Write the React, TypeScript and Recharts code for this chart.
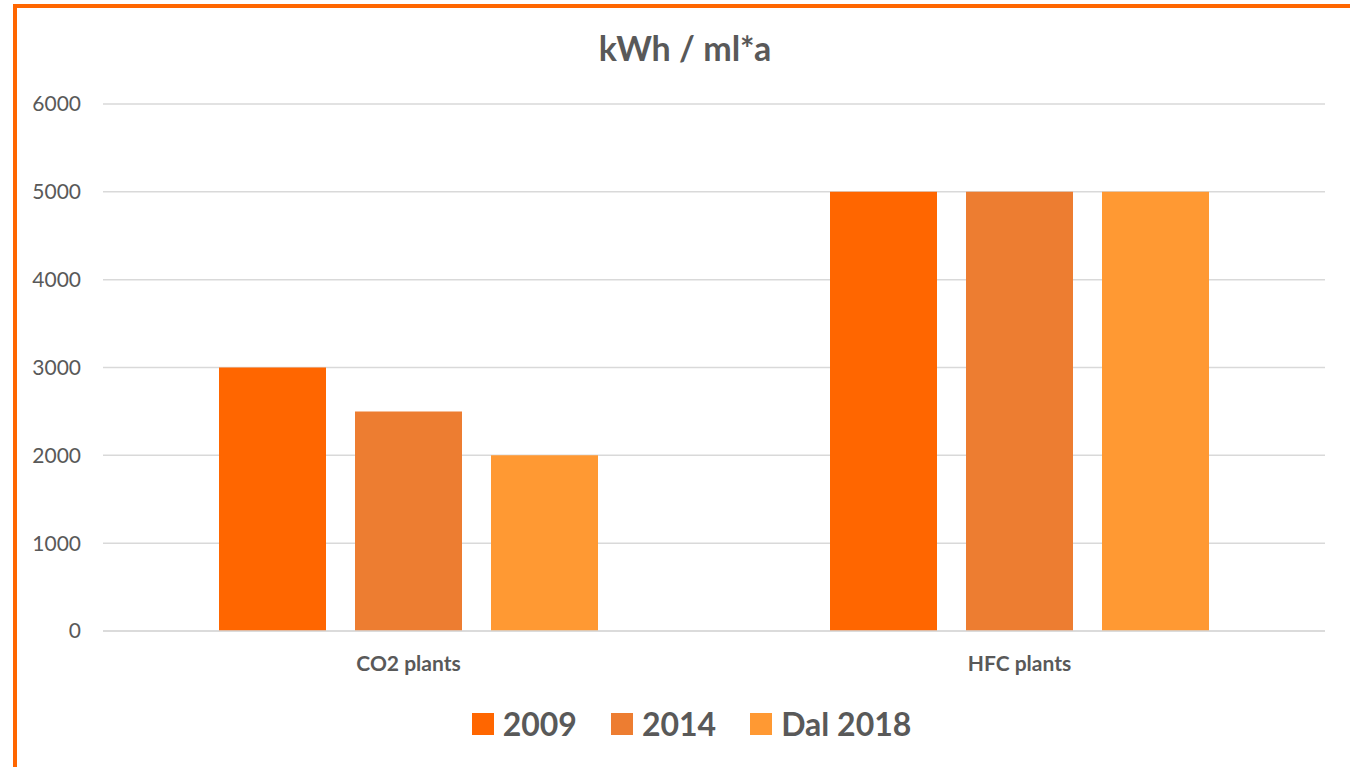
import React from 'react';
import { BarChart, Bar, XAxis, YAxis, CartesianGrid } from 'recharts';

const categories = ['CO2 plants', 'HFC plants'];
const values2009 = [3000, 5000];
const values2014 = [2500, 5000];
const values2018 = [2000, 5000];
const yTicks = [0, 1000, 2000, 3000, 4000, 5000, 6000];

const seriesInfo = [
  { key: 'v2009', name: '2009', color: '#FF6600' },
  { key: 'v2014', name: '2014', color: '#ED7D31' },
  { key: 'v2018', name: 'Dal 2018', color: '#FF9933' },
];

const chartData = categories.map((name, i) => ({
  name,
  v2009: values2009[i],
  v2014: values2014[i],
  v2018: values2018[i],
}));

const FONT = 'Lato, "Open Sans", sans-serif';
const TEXT = '#595959';

const LegendBox = () => (
  <div style={{ display: 'flex', justifyContent: 'center', alignItems: 'center', fontFamily: FONT }}>
    {seriesInfo.map((s, i) => (
      <div key={s.key} style={{ display: 'flex', alignItems: 'center', marginLeft: i === 0 ? 0 : 34 }}>
        <span style={{ width: 22, height: 22, background: s.color, display: 'inline-block', marginRight: 9 }} />
        <span style={{ fontSize: 32, fontWeight: 700, color: TEXT, lineHeight: '40px' }}>{s.name}</span>
      </div>
    ))}
  </div>
);

const App: React.FC = () => {
  return (
    <div style={{ position: 'absolute', left: 0, top: 0, width: 1350, height: 767, overflow: 'hidden', background: '#fff' }}>
      <div
        style={{
          position: 'absolute', left: 13, top: 4, right: -10, bottom: -10,
          borderLeft: '4px solid #FF6600', borderTop: '4px solid #FF6600',
        }}
      />
      <div
        style={{
          position: 'absolute', top: 27, left: 0, width: 1370, textAlign: 'center',
          fontFamily: FONT, fontWeight: 700, fontSize: 34, color: TEXT,
        }}
      >
        kWh / ml*a
      </div>
      <div style={{ position: 'absolute', left: 0, top: 0 }}>
        <BarChart
          width={1350}
          height={767}
          data={chartData}
          margin={{ top: 104, right: 25, bottom: 0, left: 0 }}
          barGap={29}
          barSize={107}
        >
          <CartesianGrid vertical={false} stroke="#D9D9D9" strokeWidth={1.5} />
          <XAxis
            dataKey="name"
            axisLine={{ stroke: '#D9D9D9', strokeWidth: 1.5 }}
            tickLine={false}
            tickSize={0}
            tickMargin={25}
            tick={{ fontFamily: FONT, fontSize: 21, fontWeight: 700, fill: TEXT }}
            height={136}
          />
          <YAxis
            width={103}
            domain={[0, 6000]}
            ticks={yTicks}
            axisLine={false}
            tickLine={false}
            tickSize={0}
            tickMargin={22}
            tick={{ fontFamily: FONT, fontSize: 21, fill: TEXT }}
          />
          {seriesInfo.map((s) => (
            <Bar key={s.key} dataKey={s.key} name={s.name} fill={s.color} isAnimationActive={false} />
          ))}
        </BarChart>
      </div>
      <div style={{ position: 'absolute', top: 704, left: 0, width: 1383 }}>
        <LegendBox />
      </div>
    </div>
  );
};

export default App;
